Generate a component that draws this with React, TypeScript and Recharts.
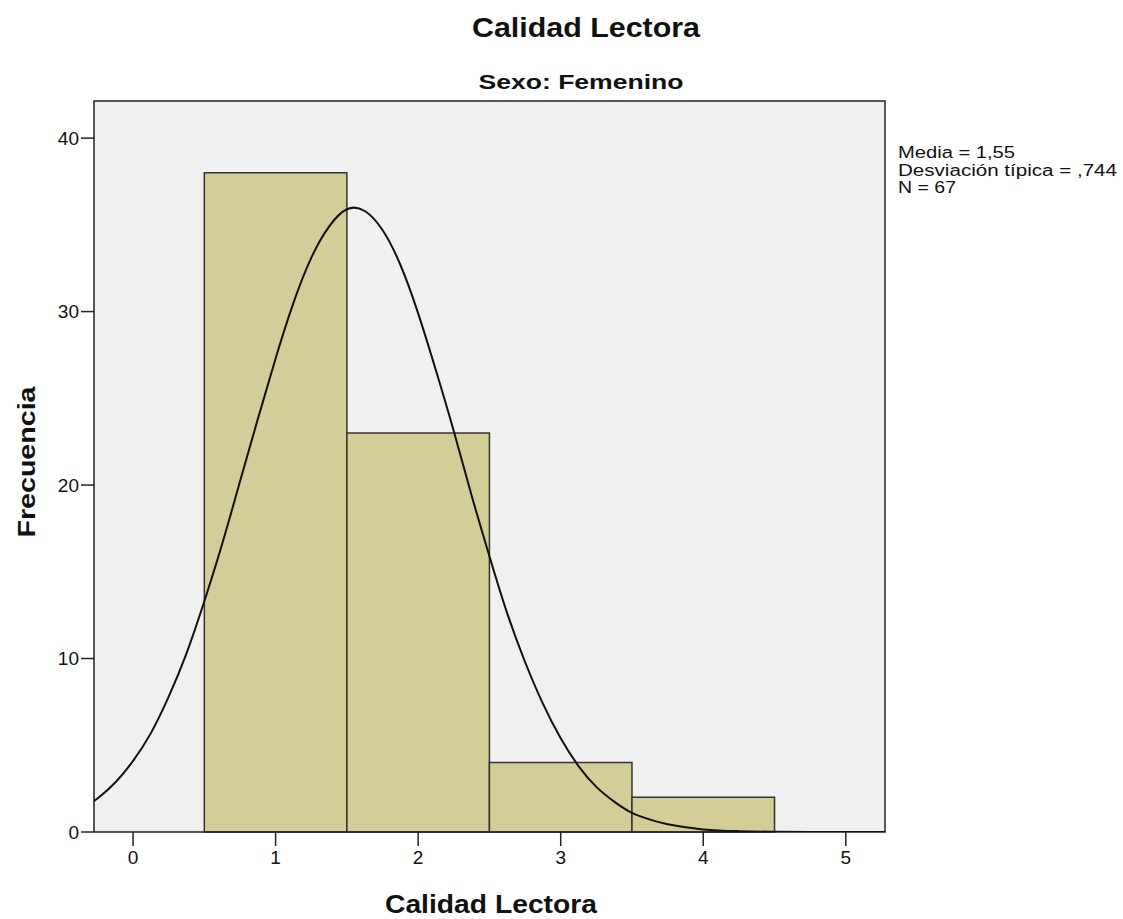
import React from 'react';
import { ComposedChart, Line, XAxis, YAxis, ReferenceArea, Label } from 'recharts';

// histogram bins (Calidad Lectora, Sexo: Femenino)
const binLow = [0.5, 1.5, 2.5, 3.5];
const binHigh = [1.5, 2.5, 3.5, 4.5];
const counts = [38, 23, 4, 2];

// normal curve (runs a bit past the left edge, clipped by the plot)
const curveX = [-0.5, -0.375, -0.25, -0.125, 0, 0.125, 0.25, 0.375, 0.5, 0.625, 0.75, 0.875, 1, 1.125, 1.25, 1.375, 1.5, 1.625, 1.75, 1.875, 2, 2.125, 2.25, 2.375, 2.5, 2.625, 2.75, 2.875, 3, 3.125, 3.25, 3.375, 3.5, 3.625, 3.75, 4, 4.25, 4.5, 4.75, 5, 5.275];
const curveY = [0.8, 1.26, 1.93, 2.85, 4.1, 5.7, 7.8, 10.3, 13.3, 16.6, 20.2, 23.8, 27.3, 30.5, 33.1, 34.9, 35.9, 35.8, 34.7, 32.7, 29.9, 26.6, 23.1, 19.4, 15.9, 12.6, 9.8, 7.4, 5.4, 3.8, 2.6, 1.75, 1.1, 0.72, 0.45, 0.15, 0.05, 0.01, 0.003, 0, 0];

const xTicks = [0, 1, 2, 3, 4, 5];
const yTicks = [0, 10, 20, 30, 40];
const xDomain: [number, number] = [-0.274, 5.275];
const yDomain: [number, number] = [0, 42.14];

const legendLines = ['Media = 1,55', 'Desviación típica = ,744', 'N = 67'];
const legendWidths = [117, 219, 58];

const curveData = curveX.map((x, i) => ({ x, y: curveY[i] }));

const font = '"Liberation Sans", Arial, sans-serif';

export default function App() {
  return (
    <div style={{ position: 'absolute', left: 0, top: 0, width: 1123, height: 919, background: '#fff' }}>
      <ComposedChart
        width={1123}
        height={919}
        data={curveData}
        margin={{ top: 101, right: 238, bottom: 27, left: 34 }}
      >
        <XAxis
          type="number"
          dataKey="x"
          domain={xDomain}
          ticks={xTicks}
          allowDataOverflow
          axisLine={false}
          tickSize={14}
          tickMargin={5}
          height={60}
          tickLine={{ stroke: '#222', strokeWidth: 1.5 }}
          tick={{ fill: '#111', fontSize: 19, fontFamily: font }}
        >
          <Label
            content={() => (
              <text
                x={491}
                y={913}
                textAnchor="middle"
                textLength={212}
                lengthAdjust="spacingAndGlyphs"
                style={{ fontFamily: font, fontWeight: 'bold', fontSize: 26, fill: '#111' }}
              >
                Calidad Lectora
              </text>
            )}
          />
        </XAxis>
        <YAxis
          type="number"
          domain={yDomain}
          ticks={yTicks}
          allowDataOverflow
          axisLine={false}
          width={60}
          tickSize={13}
          tickMargin={2}
          tickLine={{ stroke: '#222', strokeWidth: 1.5 }}
          tick={{ fill: '#111', fontSize: 19, fontFamily: font }}
        >
          <Label
            content={() => (
              <text
                x={35}
                y={462}
                transform="rotate(-90 35 462)"
                textAnchor="middle"
                textLength={151}
                lengthAdjust="spacingAndGlyphs"
                style={{ fontFamily: font, fontWeight: 'bold', fontSize: 24, fill: '#111' }}
              >
                Frecuencia
              </text>
            )}
          />
        </YAxis>

        <ReferenceArea x1={xDomain[0]} x2={xDomain[1]} y1={yDomain[0]} y2={yDomain[1]} fill="#F0F0F0" fillOpacity={1} stroke="none" />
        {counts.map((c, i) => (
          <ReferenceArea
            key={i}
            x1={binLow[i]}
            x2={binHigh[i]}
            y1={0}
            y2={c}
            fill="#D3CE97"
            fillOpacity={1}
            stroke="#333"
            strokeWidth={1.5}
          />
        ))}
        <ReferenceArea x1={xDomain[0]} x2={xDomain[1]} y1={yDomain[0]} y2={yDomain[1]} fill="none" stroke="#222" strokeWidth={1.5} />

        <Line
          type="natural"
          dataKey="y"
          stroke="#111"
          strokeWidth={2}
          dot={false}
          activeDot={false}
          isAnimationActive={false}
        />
      </ComposedChart>

      <svg width={1123} height={919} style={{ position: 'absolute', left: 0, top: 0, pointerEvents: 'none' }}>
        <text
          x={586}
          y={37}
          textAnchor="middle"
          textLength={228}
          lengthAdjust="spacingAndGlyphs"
          style={{ fontFamily: font, fontWeight: 'bold', fontSize: 27, fill: '#111' }}
        >
          Calidad Lectora
        </text>
        <text
          x={581}
          y={89}
          textAnchor="middle"
          textLength={205}
          lengthAdjust="spacingAndGlyphs"
          style={{ fontFamily: font, fontWeight: 'bold', fontSize: 20, fill: '#111' }}
        >
          Sexo: Femenino
        </text>
        {legendLines.map((t, i) => (
          <text
            key={t}
            x={898}
            y={158 + i * 17.5}
            textLength={legendWidths[i]}
            lengthAdjust="spacingAndGlyphs"
            style={{ fontFamily: font, fontSize: 16, fill: '#111' }}
          >
            {t}
          </text>
        ))}
      </svg>
    </div>
  );
}
